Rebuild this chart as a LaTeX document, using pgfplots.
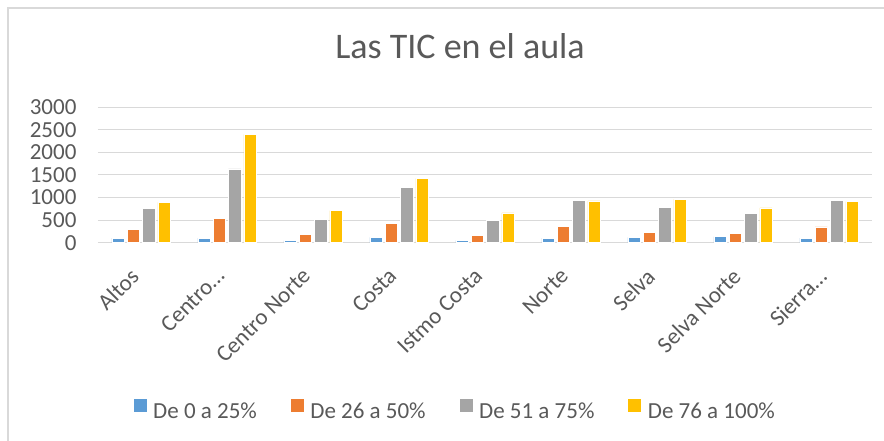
\documentclass[border=0pt]{standalone}
\usepackage{pgfplots}
\pgfplotsset{compat=1.18}
\usepackage{fontspec}
\setmainfont{Carlito}
\definecolor{cblue}{HTML}{5B9BD5}
\definecolor{corange}{HTML}{ED7D31}
\definecolor{cgray}{HTML}{A5A5A5}
\definecolor{cyellow}{HTML}{FFC000}
\definecolor{txt}{HTML}{595959}
\definecolor{gridc}{HTML}{D9D9D9}
\begin{document}
\begin{tikzpicture}
\useasboundingbox (0,0) rectangle (884pt,441pt);
\draw[gridc, line width=1.3pt] (8pt,0pt) -- (8pt,433pt) -- (884pt,433pt);
\node[anchor=base, text=txt, font=\fontsize{36}{42}\selectfont] at (460pt,382pt) {Las TIC en el aula};
\begin{axis}[
  at={(98pt,198.3pt)}, anchor=south west,
  scale only axis, width=774pt, height=135.4pt,
  xmin=-0.5, xmax=8.5, ymin=0, ymax=3000,
  ytick={0,500,...,3000},
  xtick={0,1,2,3,4,5,6,7,8},
  xticklabels={{Altos},{Centro…},{Centro Norte},{Costa},{Istmo Costa},{Norte},{Selva},{Selva Norte},{Sierra…}},
  xmajorgrids=false, ymajorgrids=true, major grid style={color=gridc, line width=1pt},
  axis line style={draw=none}, tick style={draw=none},
  ybar=3pt, bar width=12.3pt,
  /pgf/number format/assume math mode=true,
  /pgf/number format/1000 sep={},
  ticklabel style={text=txt, font=\fontsize{23}{28}\selectfont},
  yticklabel style={xshift=-18pt},
  xticklabel style={xshift=-12pt, yshift=-15pt, rotate=45, anchor=north east},
  legend columns=4,
  legend style={draw=none, fill=none, at={(0.461,-1.236)}, anchor=center,
    font=\fontsize{23}{28}\selectfont, text=txt,
    /tikz/every odd column/.append style={column sep=4pt},
    /tikz/every even column/.append style={column sep=31pt}},
  legend image code/.code={\fill[#1] (0pt,0pt) rectangle (14pt,14pt);},
]
\addplot[fill=cblue, draw=white, line width=0.5pt] coordinates {(0,100) (1,100) (2,44) (3,120) (4,53) (5,100) (6,120) (7,133) (8,100)};
\addplot[fill=corange, draw=white, line width=0.5pt] coordinates {(0,288) (1,540) (2,186) (3,430) (4,155) (5,355) (6,237) (7,208) (8,348)};
\addplot[fill=cgray, draw=white, line width=0.5pt] coordinates {(0,762) (1,1633) (2,518) (3,1219) (4,487) (5,946) (6,784) (7,651) (8,939)};
\addplot[fill=cyellow, draw=white, line width=0.5pt] coordinates {(0,895) (1,2402) (2,709) (3,1427) (4,658) (5,924) (6,968) (7,769) (8,908)};
\legend{De 0 a 25\%, De 26 a 50\%, De 51 a 75\%, De 76 a 100\%}
\end{axis}
\end{tikzpicture}
\end{document}
